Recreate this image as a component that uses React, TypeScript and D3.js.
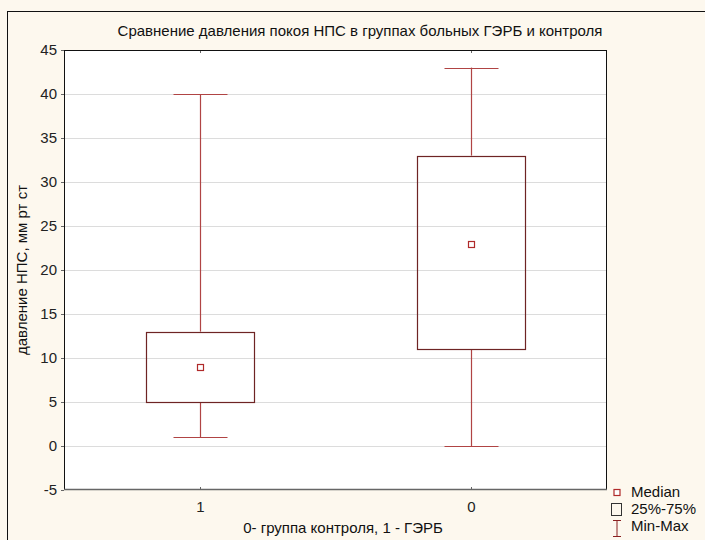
import React, { useEffect, useRef } from "react";
import * as d3 from "d3";

// Groups: 1 = GERD patients, 0 = controls
const categories = ["1", "0"];
const minValues = [1, 0];
const q1Values = [5, 11];
const medianValues = [9, 23];
const q3Values = [13, 33];
const maxValues = [40, 43];
const yTicks = [-5, 0, 5, 10, 15, 20, 25, 30, 35, 40, 45];

const W = 705;
const H = 540;
const M = { left: 64, right: 98, top: 50, bottom: 50 };

export default function App() {
  const ref = useRef<SVGSVGElement | null>(null);

  useEffect(() => {
    const svg = d3.select(ref.current);
    svg.selectAll("*").remove();

    const font = "'Liberation Sans', Arial, sans-serif";
    const fs = 15;
    const x0 = M.left, x1 = W - M.right, y0 = M.top, y1 = H - M.bottom;

    const x = d3.scalePoint<string>().domain(categories).range([x0, x1]).padding(0.5);
    const y = d3.scaleLinear().domain([-5, 45]).range([y1, y0]);

    // page background and outer frame
    svg.append("rect").attr("x", 0).attr("y", 0).attr("width", W).attr("height", H).attr("fill", "#fdf8ee");
    svg.append("rect").attr("x", 7.5).attr("y", 11.5).attr("width", W + 20).attr("height", H + 20)
      .attr("fill", "none").attr("stroke", "#111").attr("stroke-width", 1);

    // plot area
    svg.append("rect").attr("x", x0).attr("y", y0).attr("width", x1 - x0).attr("height", y1 - y0).attr("fill", "#fff");

    // grid lines
    svg.append("g").selectAll("line").data(yTicks.filter(t => t > -5 && t < 45)).join("line")
      .attr("x1", x0).attr("x2", x1)
      .attr("y1", d => Math.round(y(d)) + 0.5).attr("y2", d => Math.round(y(d)) + 0.5)
      .attr("stroke", "#dcdcdc").attr("stroke-width", 1);

    // y tick labels
    svg.append("g").selectAll("text").data(yTicks).join("text")
      .attr("x", x0 - 7).attr("y", d => y(d) + 5)
      .attr("text-anchor", "end").attr("font-family", font).attr("font-size", fs).attr("fill", "#222")
      .text(d => String(d));
    svg.append("g").selectAll("line").data(yTicks).join("line")
      .attr("x1", x0 - 3).attr("x2", x0)
      .attr("y1", d => Math.round(y(d)) + 0.5).attr("y2", d => Math.round(y(d)) + 0.5)
      .attr("stroke", "#666");

    // x tick labels and ticks
    categories.forEach(c => {
      const cx = Math.round(x(c)!) + 0.5;
      svg.append("text").attr("x", cx).attr("y", y1 + 22).attr("text-anchor", "middle")
        .attr("font-family", font).attr("font-size", fs).attr("fill", "#222").text(c);
      svg.append("line").attr("x1", cx).attr("x2", cx).attr("y1", y1 - 3).attr("y2", y1).attr("stroke", "#666");
      svg.append("line").attr("x1", cx).attr("x2", cx).attr("y1", y0).attr("y2", y0 + 3).attr("stroke", "#666");
    });

    // boxes
    const boxW = 108;
    const capW = 54;
    const whiskerColor = "#b04444";
    const boxColor = "#6e2424";
    const medColor = "#b02a2a";
    categories.forEach((c, i) => {
      const cx = Math.round(x(c)!) + 0.5;
      const g = svg.append("g");
      // whiskers
      g.append("line").attr("x1", cx).attr("x2", cx).attr("y1", y(maxValues[i])).attr("y2", y(q3Values[i]))
        .attr("stroke", whiskerColor).attr("stroke-width", 1.2);
      g.append("line").attr("x1", cx).attr("x2", cx).attr("y1", y(q1Values[i])).attr("y2", y(minValues[i]))
        .attr("stroke", whiskerColor).attr("stroke-width", 1.2);
      g.append("line").attr("x1", cx - capW / 2).attr("x2", cx + capW / 2)
        .attr("y1", Math.round(y(maxValues[i])) + 0.5).attr("y2", Math.round(y(maxValues[i])) + 0.5)
        .attr("stroke", whiskerColor).attr("stroke-width", 1.2);
      g.append("line").attr("x1", cx - capW / 2).attr("x2", cx + capW / 2)
        .attr("y1", Math.round(y(minValues[i])) + 0.5).attr("y2", Math.round(y(minValues[i])) + 0.5)
        .attr("stroke", whiskerColor).attr("stroke-width", 1.2);
      // box
      g.append("rect").attr("x", cx - boxW / 2).attr("y", Math.round(y(q3Values[i])) + 0.5)
        .attr("width", boxW).attr("height", Math.round(y(q1Values[i])) - Math.round(y(q3Values[i])))
        .attr("fill", "none").attr("stroke", boxColor).attr("stroke-width", 1.2);
      // median marker
      g.append("rect").attr("x", cx - 3).attr("y", Math.round(y(medianValues[i])) - 2.5)
        .attr("width", 6).attr("height", 6).attr("fill", "#fff").attr("stroke", medColor).attr("stroke-width", 1.2);
    });

    // plot border
    svg.append("line").attr("x1", x0).attr("x2", x1).attr("y1", y0 + 0.5).attr("y2", y0 + 0.5).attr("stroke", "#111");
    svg.append("line").attr("x1", x0 + 0.5).attr("x2", x0 + 0.5).attr("y1", y0).attr("y2", y1).attr("stroke", "#111");
    svg.append("line").attr("x1", x1 - 0.5).attr("x2", x1 - 0.5).attr("y1", y0).attr("y2", y1).attr("stroke", "#111");
    svg.append("line").attr("x1", x0).attr("x2", x1).attr("y1", y1 - 0.5).attr("y2", y1 - 0.5).attr("stroke", "#666").attr("stroke-width", 1.6);

    // title and axis labels
    svg.append("text").attr("x", 360).attr("y", 36).attr("text-anchor", "middle")
      .attr("font-family", font).attr("font-size", fs).attr("fill", "#111")
      .text("Сравнение давления покоя НПС в группах больных ГЭРБ и контроля");
    svg.append("text").attr("x", 343).attr("y", 533).attr("text-anchor", "middle")
      .attr("font-family", font).attr("font-size", fs).attr("fill", "#111")
      .text("0- группа контроля, 1 - ГЭРБ");
    svg.append("text").attr("transform", `translate(27, ${(y0 + y1) / 2}) rotate(-90)`).attr("text-anchor", "middle")
      .attr("font-family", font).attr("font-size", fs).attr("fill", "#111")
      .text("давление НПС, мм рт ст");

    // legend
    const lx = 617;
    svg.append("rect").attr("x", lx - 3).attr("y", 489.5).attr("width", 6).attr("height", 6)
      .attr("fill", "#fff").attr("stroke", medColor).attr("stroke-width", 1.2);
    svg.append("text").attr("x", 631).attr("y", 497).attr("font-family", font).attr("font-size", fs).attr("fill", "#111").text("Median");
    svg.append("rect").attr("x", lx - 5.5).attr("y", 503.5).attr("width", 10).attr("height", 12)
      .attr("fill", "none").attr("stroke", "#333").attr("stroke-width", 1);
    svg.append("text").attr("x", 631).attr("y", 514).attr("font-family", font).attr("font-size", fs).attr("fill", "#111").text("25%-75%");
    svg.append("line").attr("x1", lx - 4).attr("x2", lx + 4).attr("y1", 520.5).attr("y2", 520.5).attr("stroke", "#8a2020");
    svg.append("line").attr("x1", lx).attr("x2", lx).attr("y1", 520.5).attr("y2", 536.5).attr("stroke", "#8a2020");
    svg.append("line").attr("x1", lx - 4).attr("x2", lx + 4).attr("y1", 536.5).attr("y2", 536.5).attr("stroke", "#8a2020");
    svg.append("text").attr("x", 631).attr("y", 531).attr("font-family", font).attr("font-size", fs).attr("fill", "#111").text("Min-Max");
  }, []);

  return (
    <svg ref={ref} width={W} height={H}
      style={{ position: "absolute", left: 0, top: 0, display: "block" }} />
  );
}
